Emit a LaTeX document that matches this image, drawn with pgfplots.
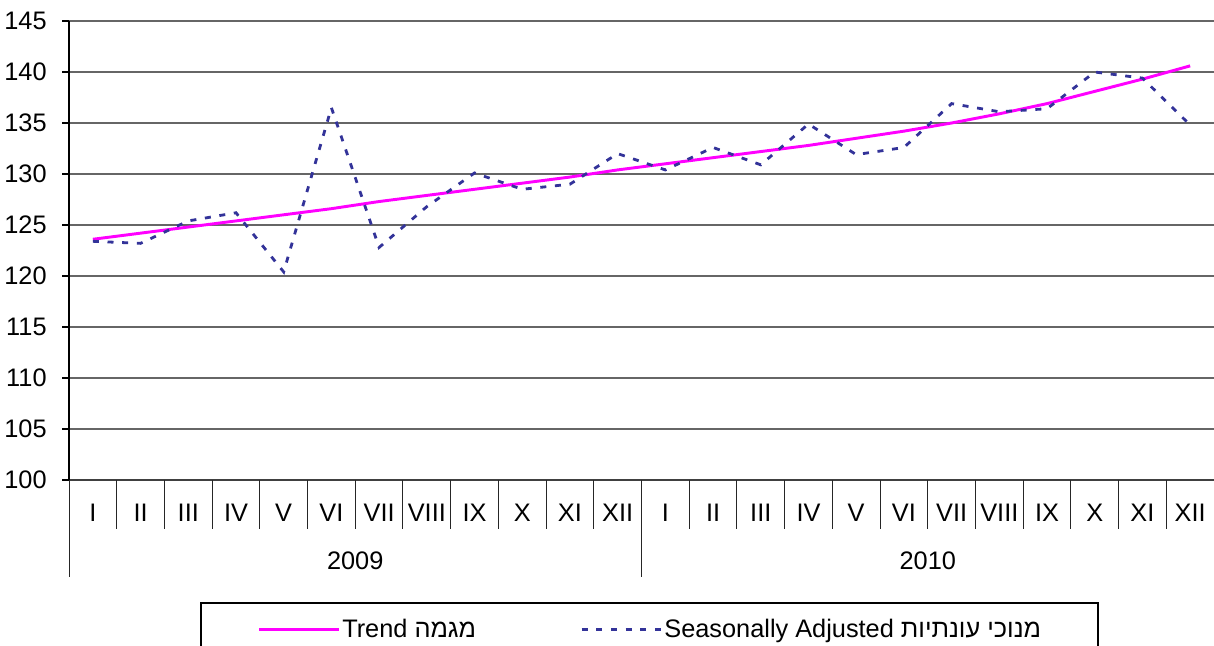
\documentclass[border=0pt]{standalone}
\usepackage{fontspec}
\setmainfont{Liberation Sans}
\newfontfamily\hebfont[Script=Hebrew]{Liberation Sans}
\TeXXeTstate=1
\usepackage{pgfplots}
\pgfplotsset{compat=1.18}
\definecolor{trendc}{RGB}{255,0,255}
\definecolor{sac}{RGB}{51,51,153}

\begin{document}
\begin{tikzpicture}[font=\fontsize{19}{22.8}\selectfont]
\useasboundingbox (0,0) rectangle (910.5pt,484.5pt);
\begin{axis}[
  at={(51.75pt,124.5pt)}, anchor=south west,
  scale only axis, width=858.75pt, height=344.25pt,
  xmin=0.5, xmax=24.5, ymin=100, ymax=145,
  ytick={100,105,...,145},
  xtick={1,...,24},
  xticklabels={I,II,III,IV,V,VI,VII,VIII,IX,X,XI,XII,I,II,III,IV,V,VI,VII,VIII,IX,X,XI,XII},
  axis x line*=bottom, axis y line*=left,
  ymajorgrids, grid style={black!60, line width=0.8pt},
  tick align=outside, major tick length=5.25pt,
  xtick style={draw=none},
  ytick style={black, line width=1pt},
  x axis line style={black!75, line width=2pt},
  y axis line style={black, line width=1.6pt},
  xticklabel style={anchor=base, yshift=-26pt},
  /pgf/number format/assume math mode=true,
  yticklabel style={/pgf/number format/1000 sep={}, xshift=-8pt},
  clip=false,
  legend columns=2,
  legend cell align=left,
  legend image code/.code={\draw[#1] (0pt,0pt) -- (60pt,0pt);},
  legend style={at={(0,0)}, anchor=north west, xshift=98.25pt, yshift=-91.5pt,
    draw=black, line width=1.5pt, inner xsep=42.75pt, inner ysep=12pt,
    column sep=0pt, nodes={inner sep=0pt}},
]
\addplot[trendc, line width=2.2pt] coordinates {
(1,123.6) (2,124.2) (3,124.8) (4,125.4) (5,126.0) (6,126.6)
(7,127.3) (8,127.9) (9,128.5) (10,129.1) (11,129.7) (12,130.4)
(13,131.0) (14,131.6) (15,132.2) (16,132.8) (17,133.5) (18,134.2)
(19,135.0) (20,135.9) (21,136.9) (22,138.1) (23,139.3) (24,140.6)};
\addlegendentry{\makebox[179.5pt][l]{\hspace{1pt}Trend {\hebfont\beginR מגמה\endR}}}
\addplot[sac, line width=2.1pt, dash pattern=on 4.5pt off 6.5pt] coordinates {
(1,123.4) (2,123.2) (3,125.4) (4,126.2) (5,120.4) (6,136.5)
(7,122.8) (8,126.8) (9,130.1) (10,128.5) (11,129.0) (12,132.0)
(13,130.4) (14,132.6) (15,130.9) (16,134.9) (17,131.9) (18,132.6)
(19,136.9) (20,136.1) (21,136.4) (22,140.0) (23,139.4) (24,134.8)};
\addlegendentry{\hspace{1pt}Seasonally Adjusted {\hebfont\beginR מנוכי עונתיות\endR}\hspace{-8pt}}
\pgfplotsinvokeforeach{0.5,1.5,...,24.5}{
  \draw[black!85, line width=0.75pt] (axis cs:#1,100) -- ++(0pt,-36.75pt);
}
\draw[black!85, line width=0.75pt] (axis cs:0.5,100) -- ++(0pt,-72.75pt);
\draw[black!85, line width=0.75pt] (axis cs:12.5,100) -- ++(0pt,-72.75pt);
\draw[black!85, line width=0.75pt] (axis cs:24.5,100) -- ++(0pt,-72.75pt);
\node[anchor=base, yshift=-67.1pt] at (axis cs:6.5,100) {2009};
\node[anchor=base, yshift=-67.1pt] at (axis cs:18.5,100) {2010};
\end{axis}
\end{tikzpicture}
\end{document}
